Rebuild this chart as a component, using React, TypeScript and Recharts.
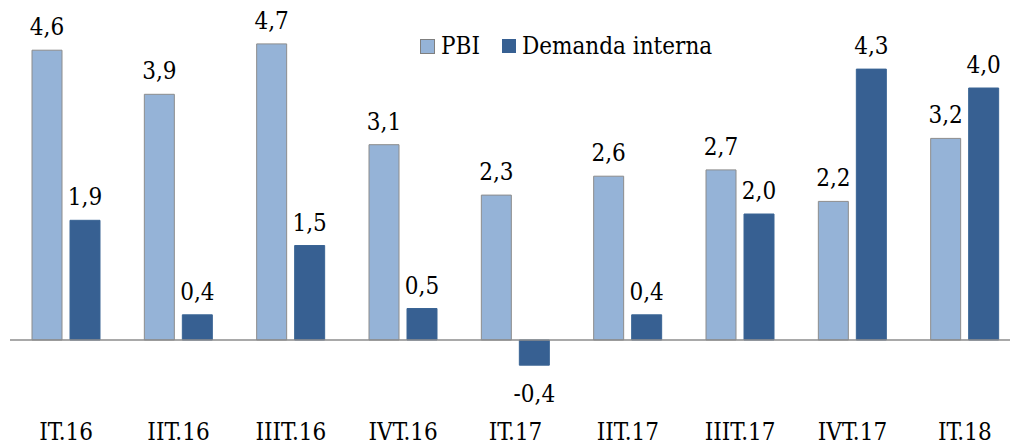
import React from 'react';
import { BarChart, Bar, XAxis, YAxis, ReferenceLine, LabelList } from 'recharts';

const categories = ['IT.16', 'IIT.16', 'IIIT.16', 'IVT.16', 'IT.17', 'IIT.17', 'IIIT.17', 'IVT.17', 'IT.18'];
const pbi = [4.6, 3.9, 4.7, 3.1, 2.3, 2.6, 2.7, 2.2, 3.2];
const demanda = [1.9, 0.4, 1.5, 0.5, -0.4, 0.4, 2.0, 4.3, 4.0];

const data = categories.map((c, i) => ({ cat: c, pbi: pbi[i], demanda: demanda[i] }));

const FONT = '"DejaVu Serif Condensed", "DejaVu Serif", serif';
const FS = 24;
const LIGHT = '#95B3D7';
const DARK = '#376092';

const fmt = (v: number) => v.toFixed(1).replace('.', ',');

const ValueLabel = (props: any) => {
  const { x, y, width, height, value } = props;
  const top = Math.min(y, y + height);
  const bottom = Math.max(y, y + height);
  const cx = x + width / 2;
  const ty = value >= 0 ? top - 15 : bottom + 37;
  return (
    <text x={cx} y={ty} textAnchor="middle" fontFamily={FONT} fontStretch="condensed" fontSize={FS} fill="#000">
      {fmt(value)}
    </text>
  );
};

const Tick = (props: any) => {
  const { x, y, payload } = props;
  return (
    <text x={x} y={y + 29} textAnchor="middle" fontFamily={FONT} fontStretch="condensed" fontSize={FS} fill="#000">
      {payload.value}
    </text>
  );
};

const LegendBox = () => (
  <div style={{ position: 'absolute', left: 420, top: 31, display: 'flex', alignItems: 'center', fontFamily: FONT, fontStretch: 'condensed', fontSize: FS, color: '#000', lineHeight: '30px' }}>
    <span style={{ display: 'inline-block', width: 13, height: 13, background: LIGHT, border: '1px solid #7F7F7F', marginRight: 6 }} />
    <span style={{ marginRight: 22 }}>PBI</span>
    <span style={{ display: 'inline-block', width: 14, height: 14, background: DARK, marginRight: 6 }} />
    <span>Demanda interna</span>
  </div>
);

export default function App() {
  return (
    <div style={{ position: 'absolute', left: 0, top: 0, width: 1010, height: 447, background: '#fff', overflow: 'hidden' }}>
      <BarChart
        width={1021}
        height={447}
        data={data}
        margin={{ top: 25, right: 0, left: 10, bottom: 0 }}
        barGap={8}
        barCategoryGap="19%"
      >
        <YAxis hide domain={[-1, 5]} type="number" />
        <XAxis dataKey="cat" axisLine={false} tickLine={false} height={44} tick={<Tick />} interval={0} />
        <Bar dataKey="pbi" fill={LIGHT} stroke="#8C8C8C" strokeWidth={1} barSize={30} isAnimationActive={false}>
          <LabelList dataKey="pbi" content={<ValueLabel />} />
        </Bar>
        <Bar dataKey="demanda" fill={DARK} stroke="#3A6494" strokeWidth={1} barSize={30} isAnimationActive={false}>
          <LabelList dataKey="demanda" content={<ValueLabel />} />
        </Bar>
        <ReferenceLine y={0} stroke="#8C8C8C" strokeWidth={1.5} />
      </BarChart>
      <LegendBox />
    </div>
  );
}
